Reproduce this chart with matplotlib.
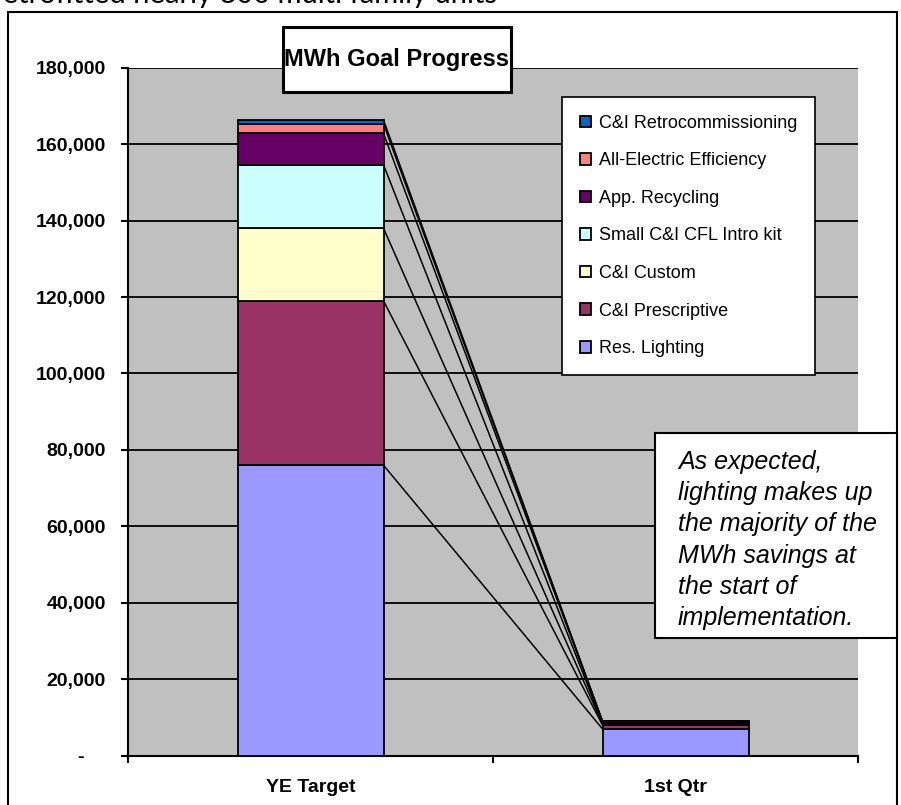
import matplotlib
matplotlib.use("Agg")
import matplotlib.pyplot as plt
from matplotlib.patches import Rectangle

# data (MWh)
categories = ["YE Target", "1st Qtr"]
programs = [
    "Res. Lighting",
    "C&I Prescriptive",
    "C&I Custom",
    "Small C&I CFL Intro kit",
    "App. Recycling",
    "All-Electric Efficiency",
    "C&I Retrocommissioning",
]
ye_target = [76000, 43000, 19000, 16600, 8200, 2500, 1000]
first_qtr = [7000, 1000, 300, 250, 400, 50, 20]
colors = ["#9999FF", "#993366", "#FFFFCC", "#CCFFFF", "#660066", "#FF8080", "#0066CC"]
yticks = list(range(0, 180001, 20000))

plt.rcParams["font.family"] = ["Liberation Sans", "DejaVu Sans"]

W, H = 901, 805
fig = plt.figure(figsize=(W / 100, H / 100), dpi=100)


def fx(px):
    return px / W


def fy(py):
    return 1 - py / H


ax = fig.add_axes([fx(128), fy(755.7), fx(858) - fx(128), fy(67.7) - fy(755.7)])
ax.set_facecolor("#C0C0C0")

xpos = [0, 1]
width = 0.4
bottoms = [0, 0]
for name, col, a, b in zip(programs, colors, ye_target, first_qtr):
    ax.bar(xpos, [a, b], width, bottom=bottoms, color=col, edgecolor="black",
           linewidth=1.3, label=name, zorder=3)
    bottoms = [bottoms[0] + a, bottoms[1] + b]
    # series lines between the stacks
    ax.plot([xpos[0] + width / 2, xpos[1] - width / 2], bottoms,
            color="black", lw=1.1, zorder=2)

ax.set_xlim(-0.5, 1.5)
ax.set_ylim(0, 180000)
ylabels = ["-    " if v == 0 else f"{v:,}" for v in yticks]
ax.set_yticks(yticks, labels=ylabels, fontsize=14, fontweight="bold")
ax.grid(axis="y", color="black", lw=1.3)
ax.set_axisbelow(True)

ax.set_xticks([-0.5, 0.5, 1.5])
ax.set_xticklabels([])
ax.set_xticks(xpos, minor=True)
ax.set_xticklabels(categories, minor=True, fontsize=14, fontweight="bold")
ax.tick_params(axis="x", which="minor", length=0, pad=17)
ax.tick_params(axis="x", which="major", length=5, width=1.5, direction="out")
ax.tick_params(axis="y", length=5, width=1.5, direction="out", pad=11)

for s in ["top", "right"]:
    ax.spines[s].set_visible(False)
for s in ["left", "bottom"]:
    ax.spines[s].set_linewidth(1.5)

handles, labels = ax.get_legend_handles_labels()
leg = ax.legend(handles[::-1], labels[::-1], loc="upper left",
                bbox_to_anchor=(0.594, 0.958), fontsize=13, frameon=True,
                fancybox=False, edgecolor="black", framealpha=1,
                handlelength=0.6, handleheight=0.6, handletextpad=0.45,
                labelspacing=1.14, borderpad=1.0, borderaxespad=0)
leg.get_frame().set_linewidth(1.2)

# chart area border
fig.add_artist(Rectangle((fx(8), -0.02), fx(897) - fx(8), fy(12) + 0.02,
                         transform=fig.transFigure, fill=False,
                         edgecolor="black", lw=1.5))

# title box
fig.add_artist(Rectangle((fx(283), fy(92)), fx(511) - fx(283), fy(27) - fy(92),
                         transform=fig.transFigure, facecolor="white",
                         edgecolor="black", lw=2.2, zorder=5))
fig.text(fx(397), fy(59.5), "MWh Goal Progress", fontsize=17, fontweight="bold",
         ha="center", va="center", zorder=6)

# note box
fig.add_artist(Rectangle((fx(655), fy(638)), fx(897) - fx(655), fy(433) - fy(638),
                         transform=fig.transFigure, facecolor="white",
                         edgecolor="black", lw=1.5, zorder=5))
fig.text(fx(678), fy(450), "As expected,\nlighting makes up\nthe majority of the\n"
         "MWh savings at\nthe start of\nimplementation.",
         fontsize=18, style="italic", ha="left", va="top", linespacing=1.38,
         zorder=6)

# text of the slide cut off at the top
fig.text(fx(-8), fy(3), "retrofitted nearly 800 multi family units",
         fontsize=21, family=["Lato", "DejaVu Sans"], va="baseline")

fig.savefig("out.png", dpi=100)
